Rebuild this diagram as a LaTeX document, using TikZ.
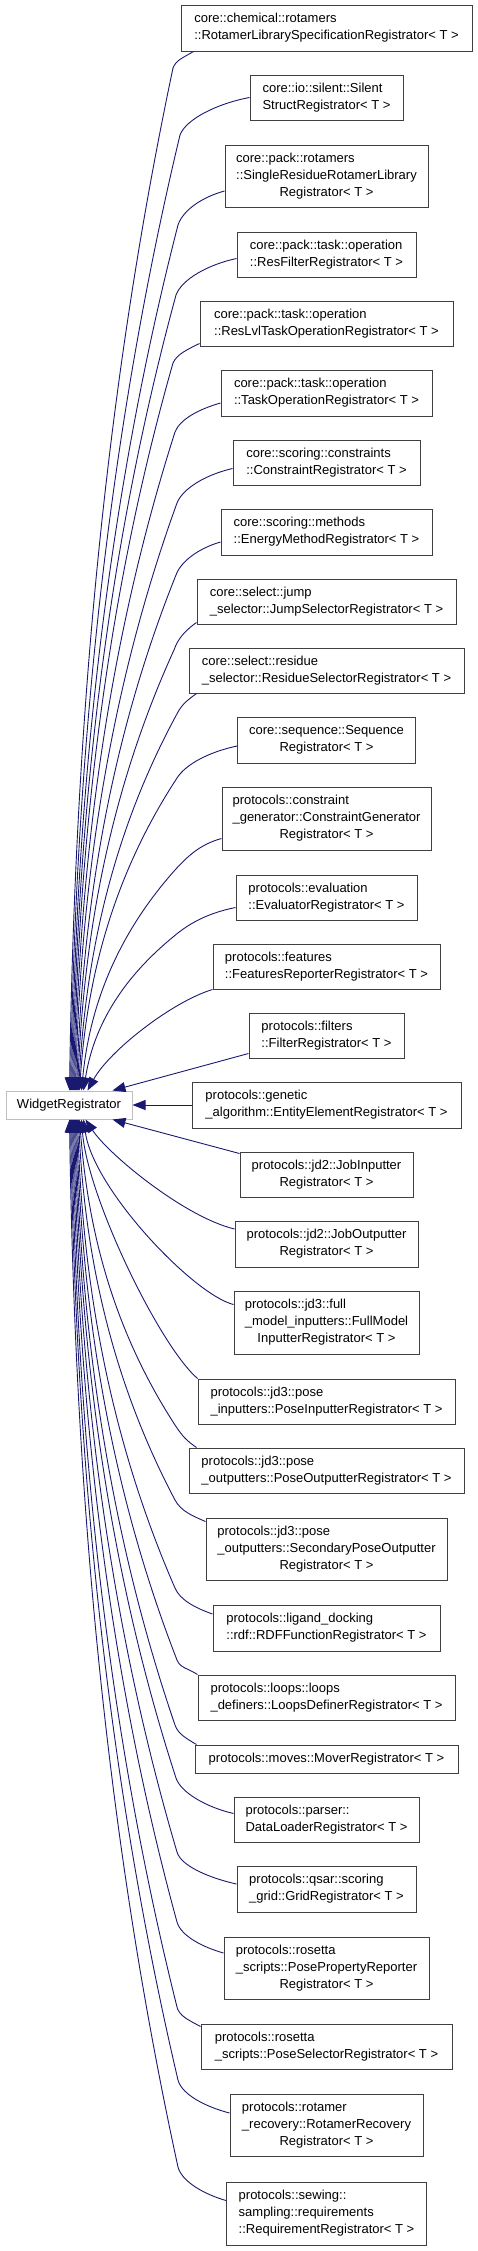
\documentclass[tikz,border=0pt]{standalone}
\usepackage{fontspec}
\setmainfont{Liberation Sans}
\usepackage{tikz}
\usetikzlibrary{arrows.meta}
\definecolor{edgeblue}{RGB}{25,25,112}
\definecolor{boxgray}{RGB}{64,64,64}
\definecolor{basegray}{RGB}{191,191,191}
\tikzset{
    edge color/.style={color=edgeblue},
    inh/.style={edge color,line width=0.9pt,-{Triangle[length=13pt,width=10pt]}},
    reg/.style={draw=boxgray,line width=1pt,fill=white,inner sep=0pt,font=\fontsize{13}{17}\selectfont},
    base/.style={reg,draw=basegray},
}
\newcommand{\regtext}[2]{\begin{tabular}{@{}l@{}}#1\\\multicolumn{1}{@{}c@{}}{#2}\end{tabular}}

\begin{document}
\begin{tikzpicture}[x=1pt,y=-1pt]
        \useasboundingbox (0,0) rectangle (477,2251);

        \node[base,minimum width=126pt,minimum height=28pt] (widget) at (69,1105) {WidgetRegistrator};

        \node[reg,minimum width=291pt,minimum height=46pt] (n1) at (326.5,28) {\regtext{core::chemical::rotamers}{::RotamerLibrarySpecificationRegistrator< T >}};
        \node[reg,minimum width=153pt,minimum height=45pt] (n2) at (326.5,97.5) {\regtext{core::io::silent::Silent}{StructRegistrator< T >}};
        \node[reg,minimum width=203pt,minimum height=62pt] (n3) at (326.5,176) {\regtext{core::pack::rotamers\\::SingleResidueRotamerLibrary}{Registrator< T >}};
        \node[reg,minimum width=179pt,minimum height=45pt] (n4) at (326.5,254.5) {\regtext{core::pack::task::operation}{::ResFilterRegistrator< T >}};
        \node[reg,minimum width=253pt,minimum height=45pt] (n5) at (326.5,323.5) {\regtext{core::pack::task::operation}{::ResLvlTaskOperationRegistrator< T >}};
        \node[reg,minimum width=211pt,minimum height=46pt] (n6) at (326.5,393) {\regtext{core::pack::task::operation}{::TaskOperationRegistrator< T >}};
        \node[reg,minimum width=187pt,minimum height=45pt] (n7) at (326.5,462.5) {\regtext{core::scoring::constraints}{::ConstraintRegistrator< T >}};
        \node[reg,minimum width=211pt,minimum height=46pt] (n8) at (326.5,532) {\regtext{core::scoring::methods}{::EnergyMethodRegistrator< T >}};
        \node[reg,minimum width=259pt,minimum height=45pt] (n9) at (326.5,601.5) {\regtext{core::select::jump}{\_selector::JumpSelectorRegistrator< T >}};
        \node[reg,minimum width=275pt,minimum height=45pt] (n10) at (326.5,670.5) {\regtext{core::select::residue}{\_selector::ResidueSelectorRegistrator< T >}};
        \node[reg,minimum width=178pt,minimum height=46pt] (n11) at (326.5,740) {\regtext{core::sequence::Sequence}{Registrator< T >}};
        \node[reg,minimum width=209pt,minimum height=63pt] (n12) at (326.5,818.5) {\regtext{protocols::constraint\\\_generator::ConstraintGenerator}{Registrator< T >}};
        \node[reg,minimum width=181pt,minimum height=45pt] (n13) at (326.5,897.5) {\regtext{protocols::evaluation}{::EvaluatorRegistrator< T >}};
        \node[reg,minimum width=227pt,minimum height=45pt] (n14) at (326.5,966.5) {\regtext{protocols::features}{::FeaturesReporterRegistrator< T >}};
        \node[reg,minimum width=155pt,minimum height=45pt] (n15) at (326.5,1035.5) {\regtext{protocols::filters}{::FilterRegistrator< T >}};
        \node[reg,minimum width=269pt,minimum height=46pt] (n16) at (326.5,1105) {\regtext{protocols::genetic}{\_algorithm::EntityElementRegistrator< T >}};
        \node[reg,minimum width=173pt,minimum height=45pt] (n17) at (326.5,1174.5) {\regtext{protocols::jd2::JobInputter}{Registrator< T >}};
        \node[reg,minimum width=183pt,minimum height=46pt] (n18) at (326.5,1244) {\regtext{protocols::jd2::JobOutputter}{Registrator< T >}};
        \node[reg,minimum width=185pt,minimum height=63pt] (n19) at (326.5,1322.5) {\regtext{protocols::jd3::full\\\_model\_inputters::FullModel}{InputterRegistrator< T >}};
        \node[reg,minimum width=257pt,minimum height=45pt] (n20) at (326.5,1401.5) {\regtext{protocols::jd3::pose}{\_inputters::PoseInputterRegistrator< T >}};
        \node[reg,minimum width=275pt,minimum height=45pt] (n21) at (326.5,1470.5) {\regtext{protocols::jd3::pose}{\_outputters::PoseOutputterRegistrator< T >}};
        \node[reg,minimum width=241pt,minimum height=62pt] (n22) at (326.5,1549) {\regtext{protocols::jd3::pose\\\_outputters::SecondaryPoseOutputter}{Registrator< T >}};
        \node[reg,minimum width=227pt,minimum height=46pt] (n23) at (326.5,1628) {\regtext{protocols::ligand\_docking}{::rdf::RDFFunctionRegistrator< T >}};
        \node[reg,minimum width=257pt,minimum height=45pt] (n24) at (326.5,1697.5) {\regtext{protocols::loops::loops}{\_definers::LoopsDefinerRegistrator< T >}};
        \node[reg,minimum width=263pt,minimum height=28pt] (n25) at (326.5,1759) {protocols::moves::MoverRegistrator< T >};
        \node[reg,minimum width=185pt,minimum height=45pt] (n26) at (326.5,1819.5) {\regtext{protocols::parser::}{DataLoaderRegistrator< T >}};
        \node[reg,minimum width=179pt,minimum height=46pt] (n27) at (326.5,1889) {\regtext{protocols::qsar::scoring}{\_grid::GridRegistrator< T >}};
        \node[reg,minimum width=205pt,minimum height=62pt] (n28) at (326.5,1968) {\regtext{protocols::rosetta\\\_scripts::PosePropertyReporter}{Registrator< T >}};
        \node[reg,minimum width=251pt,minimum height=45pt] (n29) at (326.5,2046.5) {\regtext{protocols::rosetta}{\_scripts::PoseSelectorRegistrator< T >}};
        \node[reg,minimum width=193pt,minimum height=62pt] (n30) at (326.5,2125) {\regtext{protocols::rotamer\\\_recovery::RotamerRecovery}{Registrator< T >}};
        \node[reg,minimum width=200pt,minimum height=63pt] (n31) at (326.5,2213.5) {\regtext{protocols::sewing::\\sampling::requirements}{::RequirementRegistrator< T >}};

        % upper children
        \draw[inh] ([xshift=13pt]n1.south west) .. controls +(-10,6) and +(3,-8) .. (173,68) .. controls +(-72,341) and +(5,-341) .. ([xshift=64pt]widget.north west);
        \draw[inh] (n2.west) .. controls +(-32,6) and +(6,-16) .. (180,135) .. controls +(-76,318) and +(5,-318) .. ([xshift=65pt]widget.north west);
        \draw[inh] ([yshift=-15pt]n3.west) .. controls +(-22,6) and +(5,-15) .. (178,225) .. controls +(-74,288) and +(5,-288) .. ([xshift=66pt]widget.north west);
        \draw[inh] ([yshift=-4pt]n4.west) .. controls +(-28,6) and +(6,-16) .. (176,295) .. controls +(-72,265) and +(5,-265) .. ([xshift=67pt]widget.north west);
        \draw[inh] ([yshift=3pt]n5.south west) .. controls +(-12,6) and +(4,-9) .. (173,363) .. controls +(-69,242) and +(5,-242) .. ([xshift=68pt]widget.north west);
        \draw[inh] ([yshift=-10pt]n6.west) .. controls +(-21,6) and +(5,-13) .. (175,432) .. controls +(-70,219) and +(5,-219) .. ([xshift=69pt]widget.north west);
        \draw[inh] ([yshift=-6pt]n7.west) .. controls +(-26,6) and +(6,-15) .. (177,503) .. controls +(-71,196) and +(5,-196) .. ([xshift=70pt]widget.north west);
        \draw[inh] ([yshift=-10pt]n8.west) .. controls +(-21,6) and +(5,-14) .. (176,575) .. controls +(-69,172) and +(6,-172) .. ([xshift=71pt]widget.north west);
        \draw[inh] ([yshift=2pt]n9.south west) .. controls +(-10,7) and +(4,-12) .. (174,650) .. controls +(-67,147) and +(6,-147) .. ([xshift=72pt]widget.north west);
        \draw[inh] ([xshift=8pt]n10.south west) .. controls +(-8,6) and +(5,-9) .. (178,712) .. controls +(-69,126) and +(7,-126) .. ([xshift=73pt]widget.north west);
        \draw[inh] ([yshift=-6pt]n11.west) .. controls +(-28,6) and +(9,-14) .. (177,778) .. controls +(-68,104) and +(7,-104) .. ([xshift=74pt]widget.north west);
        \draw[inh] ([yshift=-20pt]n12.west) .. controls +(-22,6) and +(12,-13) .. (175,870) .. controls +(-65,73) and +(7,-73) .. ([xshift=76pt]widget.north west);
        \draw[inh] ([yshift=-10pt]n13.west) .. controls +(-30,6) and +(14,-12) .. (173,937) .. controls +(-62,51) and +(8,-51) .. ([xshift=78pt]widget.north west);
        \draw[inh] (n14.south west) .. controls +(-40,12) and +(22,-40) .. ([xshift=82pt]widget.north west);
        \draw[inh] ([yshift=5pt]n15.south west) -- ([xshift=107pt]widget.north west);
        \draw[inh] (n16.west) -- (widget.east);

        % lower children
        \draw[inh] ([yshift=-2pt]n17.north west) -- ([xshift=107pt]widget.south west);
        \draw[inh] ([yshift=15pt]n18.west) .. controls +(-50,-12) and +(23,35) .. ([xshift=80pt]widget.south west);
        \draw[inh] ([yshift=18pt]n19.west) .. controls +(-40,-10) and +(10,70) .. ([xshift=78pt]widget.south west);
        \draw[inh] (n20.north west) .. controls +(-38,-33) and +(6,78) .. ([xshift=76pt]widget.south west);
        \draw[inh] ([xshift=8pt]n21.north west) .. controls +(-10,-7) and +(8,12) .. (175,1425) .. controls +(-66,-102) and +(8,102) .. ([xshift=74pt]widget.south west);
        \draw[inh] ([yshift=-4pt]n22.north west) .. controls +(-14,-6) and +(6,11) .. (175,1500) .. controls +(-67,-127) and +(6,127) .. ([xshift=73pt]widget.south west);
        \draw[inh] ([yshift=14pt]n23.west) .. controls +(-17,-6) and +(5,12) .. (175,1588) .. controls +(-68,-156) and +(5,156) .. ([xshift=72pt]widget.south west);
        \draw[inh] (n24.north west) .. controls +(-9,-6) and +(3,8) .. (177,1660) .. controls +(-70,-180) and +(5,180) .. ([xshift=71pt]widget.south west);
        \draw[inh] ([xshift=2pt]n25.north west) .. controls +(-10,-6) and +(3,9) .. (175,1725) .. controls +(-69,-202) and +(5,202) .. ([xshift=70pt]widget.south west);
        \draw[inh] ([yshift=6pt]n26.west) .. controls +(-26,-6) and +(5,15) .. (176,1778) .. controls +(-71,-219) and +(5,219) .. ([xshift=69pt]widget.south west);
        \draw[inh] ([yshift=5pt]n27.west) .. controls +(-27,-6) and +(4,14) .. (177,1852) .. controls +(-72,-244) and +(5,244) .. ([xshift=68pt]widget.south west);
        \draw[inh] ([yshift=15pt]n28.west) .. controls +(-21,-6) and +(4,14) .. (177,1922) .. controls +(-73,-267) and +(5,267) .. ([xshift=67pt]widget.south west);
        \draw[inh] ([yshift=-3pt]n29.north west) .. controls +(-11,-6) and +(2,9) .. (177,2007) .. controls +(-74,-296) and +(5,296) .. ([xshift=66pt]widget.south west);
        \draw[inh] ([yshift=12pt]n30.west) .. controls +(-23,-6) and +(4,15) .. (178,2080) .. controls +(-75,-320) and +(5,320) .. ([xshift=65pt]widget.south west);
        \draw[inh] ([yshift=13pt]n31.west) .. controls +(-21,-6) and +(4,15) .. (178,2167) .. controls +(-76,-349) and +(5,349) .. ([xshift=64pt]widget.south west);
    \end{tikzpicture}
\end{document}
